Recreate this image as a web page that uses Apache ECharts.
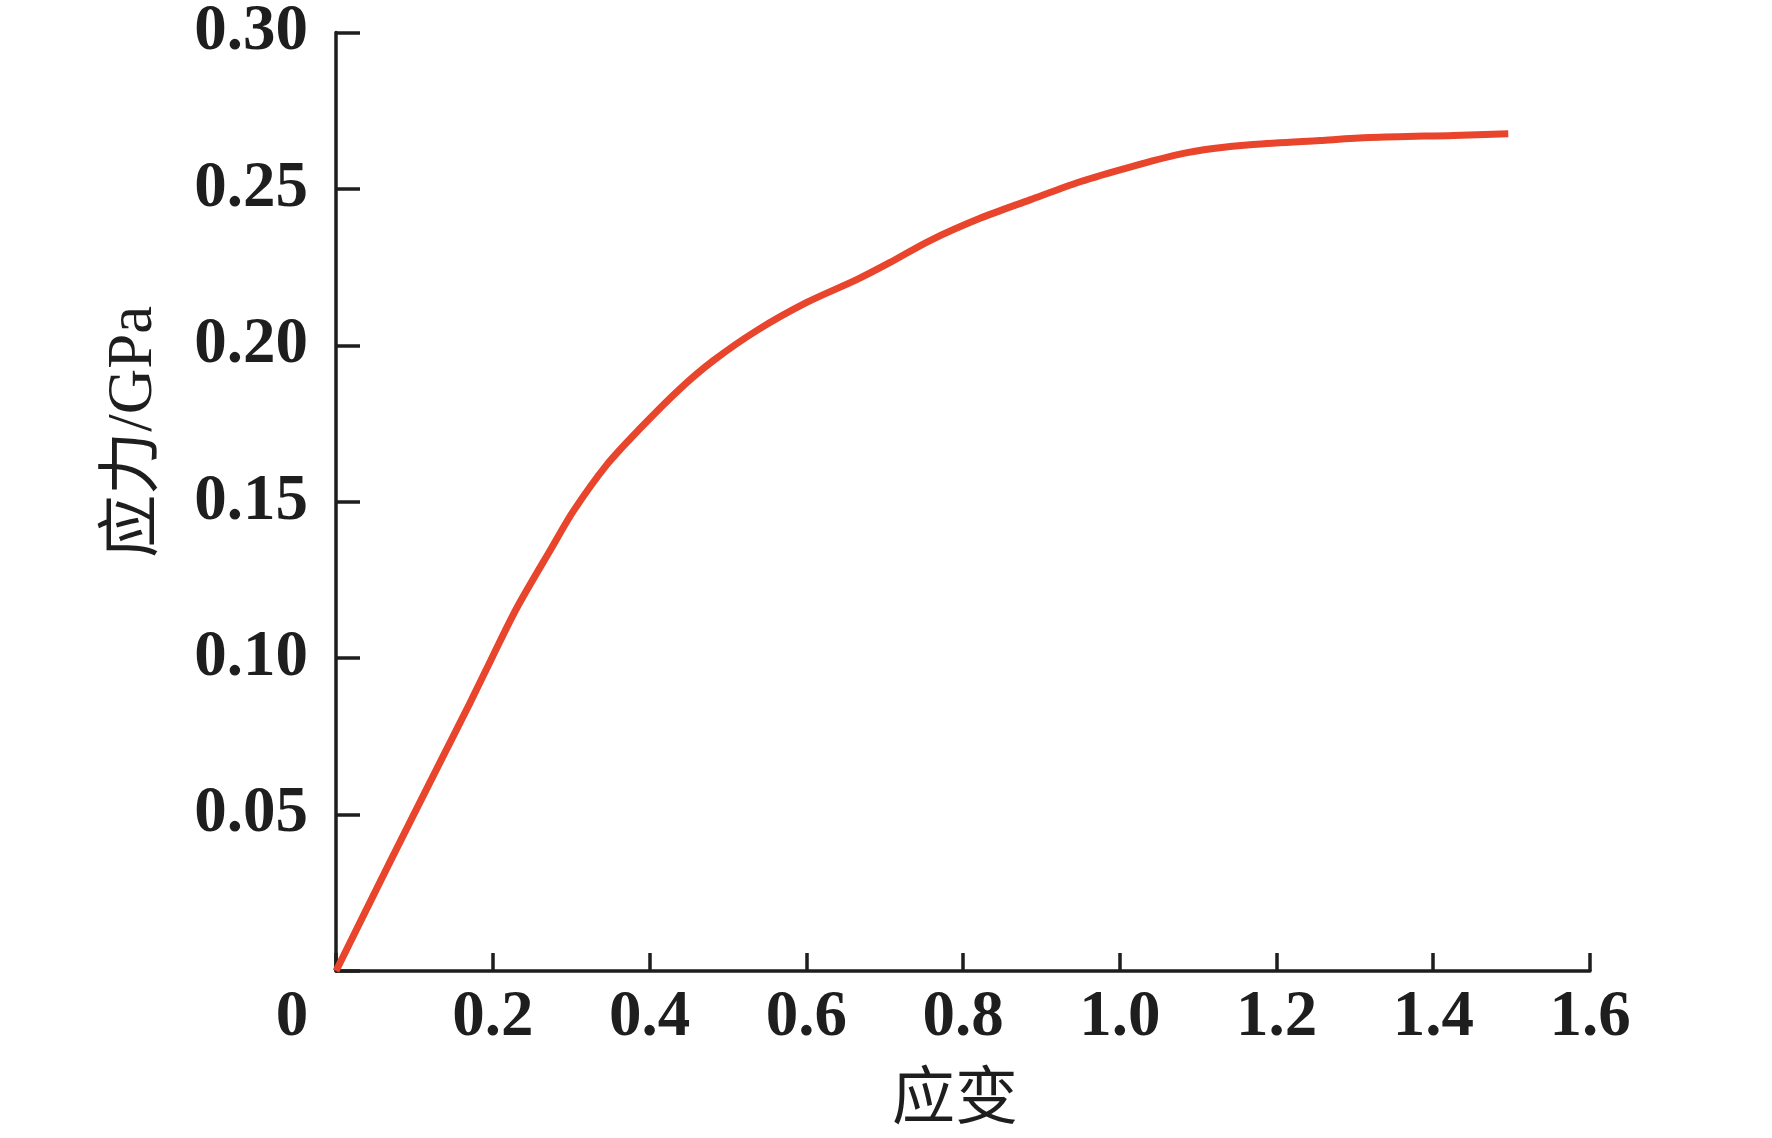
<!DOCTYPE html>
<html>
<head>
<meta charset="utf-8">
<script src="https://cdn.jsdelivr.net/npm/echarts@6/dist/echarts.min.js"></script>
<style>
html,body{margin:0;padding:0;background:#fff;}
#c{width:1772px;height:1138px;}
</style>
</head>
<body>
<div id="c"></div>
<script>
// strain values (x)
const strain = [0, 0.0689, 0.1327, 0.171, 0.2003, 0.231, 0.2752, 0.3028, 0.3454, 0.3879, 0.4389, 0.4814, 0.5367, 0.6006, 0.6644, 0.707, 0.7579, 0.8217, 0.8855, 0.9493, 1.0131, 1.0769, 1.1194, 1.17, 1.2555, 1.319, 1.4256, 1.4957];
// stress values in GPa (y)
const stress = [0, 0.0349, 0.0667, 0.0857, 0.1008, 0.1162, 0.1353, 0.147, 0.1618, 0.1734, 0.1861, 0.1951, 0.2047, 0.2137, 0.2210, 0.2265, 0.2335, 0.2406, 0.2465, 0.2523, 0.2570, 0.2611, 0.2629, 0.2642, 0.2655, 0.2664, 0.2671, 0.2676];
const xTicks = [0, 0.2, 0.4, 0.6, 0.8, 1.0, 1.2, 1.4, 1.6];
const yTicks = [0, 0.05, 0.10, 0.15, 0.20, 0.25, 0.30];
const xName = '应变';
const yName = '应力/GPa';

const data = strain.map((v, i) => [v, stress[i]]);
const ink = '#1e1e1e';
const numFont = "'Liberation Serif', 'Times New Roman', serif";
const nameFont = "'Liberation Serif', 'Noto Sans CJK SC', serif";

const chart = echarts.init(document.getElementById('c'));
chart.setOption({
  backgroundColor: '#fff',
  animation: false,
  grid: { left: 336, right: 182, top: 28, bottom: 165, containLabel: false },
  xAxis: {
    type: 'value',
    min: xTicks[0], max: xTicks[xTicks.length - 1], interval: 0.2,
    name: xName, nameLocation: 'middle', nameGap: 99,
    nameTextStyle: { fontFamily: nameFont, fontSize: 63, color: ink, padding: [0, 16, 0, 0] },
    axisLine: { show: true, lineStyle: { color: ink, width: 3.5 } },
    axisTick: { show: true, inside: true, length: 18, lineStyle: { color: ink, width: 3.5 } },
    splitLine: { show: false },
    axisLabel: {
      margin: 15, fontFamily: numFont, fontWeight: 'bold', fontSize: 65, color: ink,
      formatter: v => v === 0 ? '{o|0}' : v.toFixed(1),
      rich: { o: { fontFamily: numFont, fontWeight: 'bold', fontSize: 65, color: ink, padding: [0, 88, 0, 0] } }
    }
  },
  yAxis: {
    type: 'value',
    min: yTicks[0], max: yTicks[yTicks.length - 1], interval: 0.05,
    name: yName, nameLocation: 'middle', nameGap: 170, nameRotate: 90,
    nameTextStyle: { fontFamily: nameFont, fontSize: 63, color: ink, padding: [0, 0, 0, 140] },
    axisLine: { show: true, lineStyle: { color: ink, width: 3.5 } },
    axisTick: { show: true, inside: true, length: 24, lineStyle: { color: ink, width: 3.5 } },
    splitLine: { show: false },
    axisLabel: {
      margin: 28, fontFamily: numFont, fontWeight: 'bold', fontSize: 65, color: ink,
      formatter: v => v === 0 ? '' : v.toFixed(2)
    }
  },
  series: [{
    type: 'line',
    data: data,
    smooth: 0.3,
    showSymbol: false,
    lineStyle: { color: '#e8452c', width: 7, cap: 'butt', join: 'round' },
    z: 1
  }]
});
</script>
</body>
</html>
